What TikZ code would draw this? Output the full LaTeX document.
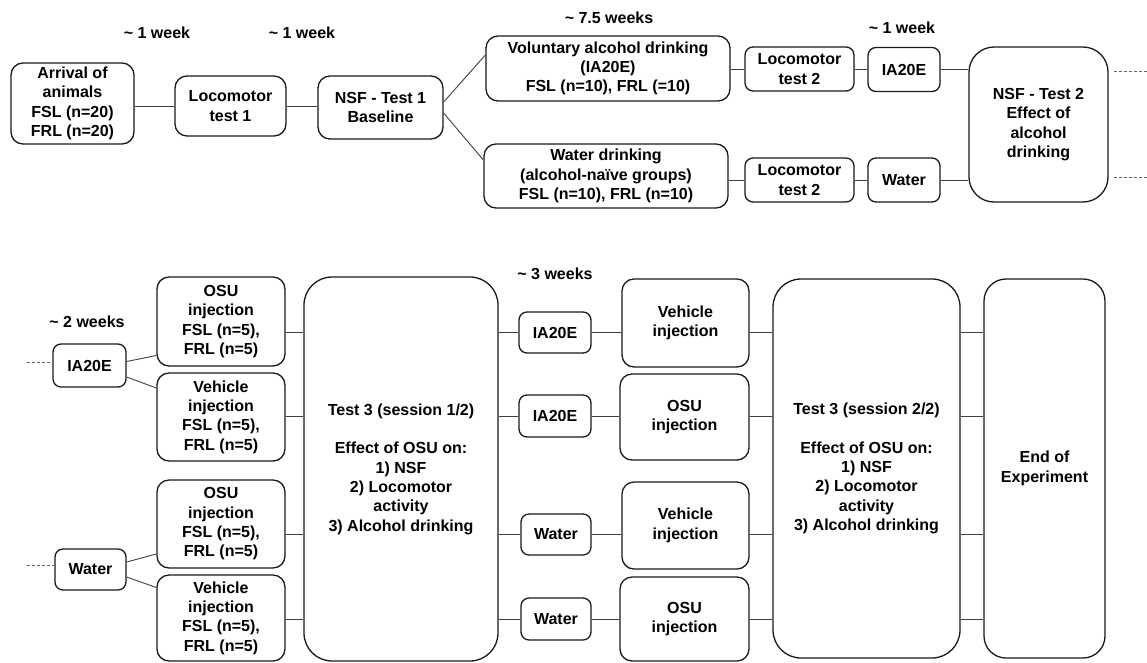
\documentclass[tikz,border=0pt]{standalone}
\usepackage{fontspec}
\setmainfont{Liberation Sans}
\begin{document}
\begin{tikzpicture}[x=1pt,y=-1pt,font=\fontsize{16}{19.3}\selectfont\bfseries]
        \tikzstyle{stage}=[draw=black!90,line width=1.3pt,rounded corners=12pt,align=center,inner sep=0pt]
        \tikzstyle{small}=[stage,rounded corners=8pt]
        \tikzstyle{big}=[stage,rounded corners=28pt]
        \tikzstyle{link}=[draw=black!75,line width=0.9pt]
        \tikzstyle{loose}=[draw=black!60,line width=0.8pt,dash pattern=on 3pt off 2pt]
        \useasboundingbox (0,0) rectangle (1147,662);
        % top row
        \node [stage,minimum width=123pt,minimum height=81pt] (arr) at (72.5,103.5) {Arrival of\\animals\\FSL (n=20)\\FRL (n=20)};
        \node [stage,minimum width=111pt,minimum height=60pt] (loc1) at (230.5,106) {Locomotor\\test 1};
        \node [stage,minimum width=125pt,minimum height=63pt] (nsf1) at (380.5,107.5) {NSF - Test 1\\Baseline};
        \node [stage,minimum width=244pt,minimum height=65pt] (vol) at (608,68.5) {Voluntary alcohol drinking\\(IA20E)\\FSL (n=10), FRL (=10)};
        \node [stage,minimum width=244pt,minimum height=64pt] (wat) at (606,176) {Water drinking\\(alcohol-naïve groups)\\FSL (n=10), FRL (n=10)};
        \node [small,minimum width=109pt,minimum height=44pt] (loc2a) at (799.5,69) {Locomotor\\test 2};
        \node [small,minimum width=72pt,minimum height=44pt] (ia1) at (904,69.5) {IA20E};
        \node [small,minimum width=109pt,minimum height=44pt] (loc2b) at (799.5,180) {Locomotor\\test 2};
        \node [small,minimum width=72pt,minimum height=44pt] (wat1) at (904,180) {Water};
        \node [big,rounded corners=25pt,minimum width=139pt,minimum height=155pt] (nsf2) at (1038.5,124.5) {NSF - Test 2\\Effect of\\alcohol\\drinking};
        \coordinate (dA) at (1147,71);
        \coordinate (dB) at (1147,177);
        \node (w1) at (157,33) {\textasciitilde{} 1 week};
        \node (w2) at (302,33) {\textasciitilde{} 1 week};
        \node (w3) at (609,18) {\textasciitilde{} 7.5 weeks};
        \node (w4) at (902,28) {\textasciitilde{} 1 week};
        \path[link] (arr.east |- loc1) -- (loc1.west);
        \path[link] (loc1.east) -- (loc1.east -| nsf1.west);
        \path[link] ([yshift=5.5pt]nsf1.east) -- ([yshift=13.5pt]vol.west);
        \path[link] ([yshift=-5.5pt]nsf1.east) -- ([yshift=16pt]wat.west);
        \path[link] (vol.east |- loc2a) -- (loc2a.west);
        \path[link] (loc2a.east) -- (ia1.west |- loc2a);
        \path[link] (ia1.east) -- (ia1.east -| nsf2.west);
        \path[link] (wat.east |- loc2b) -- (loc2b.west);
        \path[link] (loc2b.east) -- (wat1.west);
        \path[link] (wat1.east) -- (wat1.east -| nsf2.west);
        \path[loose] ([xshift=5pt]nsf2.east |- dA) -- (dA);
        \path[loose] ([xshift=5pt]nsf2.east |- dB) -- (dB);
        % bottom row
        \node [small,minimum width=73pt,minimum height=43pt] (iaL) at (89.5,365.5) {IA20E};
        \node [small,minimum width=71pt,minimum height=41pt] (waL) at (90.5,569.5) {Water};
        \node (w5) at (87,322) {\textasciitilde{} 2 weeks};
        \node (w6) at (555,274) {\textasciitilde{} 3 weeks};
        \coordinate (dL1) at (27,362);
        \coordinate (dL2) at (27,565);
        \node [stage,minimum width=128pt,minimum height=89pt] (osuA) at (221,321.5) {OSU\\injection\\FSL (n=5),\\FRL (n=5)};
        \node [stage,minimum width=128pt,minimum height=88pt] (vehA) at (221,417) {Vehicle\\injection\\FSL (n=5),\\FRL (n=5)};
        \node [stage,minimum width=128pt,minimum height=88pt] (osuB) at (221,524) {OSU\\injection\\FSL (n=5),\\FRL (n=5)};
        \node [stage,minimum width=128pt,minimum height=86pt] (vehB) at (221,618) {Vehicle\\injection\\FSL (n=5),\\FRL (n=5)};
        \node [big,minimum width=194pt,minimum height=384pt] (tsA) at (401,469) {Test 3 (session 1/2)\\ \\Effect of OSU on:\\1) NSF\\2) Locomotor\\activity\\3) Alcohol drinking};
        \node [small,minimum width=72pt,minimum height=41pt] (iaM1) at (555,332.5) {IA20E};
        \node [small,minimum width=72pt,minimum height=42pt] (iaM2) at (555,416) {IA20E};
        \node [small,minimum width=70pt,minimum height=41pt] (waM1) at (556,534.5) {Water};
        \node [small,minimum width=70pt,minimum height=42pt] (waM2) at (556,619) {Water};
        \node [stage,minimum width=127pt,minimum height=88pt] (vehM1) at (685.5,323) {Vehicle\\injection};
        \node [stage,minimum width=129pt,minimum height=86pt] (osuM1) at (684.5,417) {OSU\\injection};
        \node [stage,minimum width=127pt,minimum height=87pt] (vehM2) at (685.5,525.5) {Vehicle\\injection};
        \node [stage,minimum width=129pt,minimum height=84pt] (osuM2) at (684.5,619) {OSU\\injection};
        \node [big,minimum width=187pt,minimum height=379pt] (tsB) at (866.5,468.5) {Test 3 (session 2/2)\\ \\Effect of OSU on:\\1) NSF\\2) Locomotor\\activity\\3) Alcohol drinking};
        \node [big,rounded corners=22pt,minimum width=121pt,minimum height=379pt] (endX) at (1044.5,468.5) {End of\\Experiment};
        \path[loose] (dL1) -- (dL1 -| iaL.west);
        \path[loose] (dL2) -- (dL2 -| waL.west);
        \path[link] ([yshift=4pt]iaL.east) -- ([yshift=-34pt]osuA.west);
        \path[link] ([yshift=-11.5pt]iaL.east) -- ([yshift=29pt]vehA.west);
        \path[link] ([yshift=7.5pt]waL.east) -- ([yshift=-30pt]osuB.west);
        \path[link] ([yshift=-7.5pt]waL.east) -- ([yshift=30.5pt]vehB.west);
        \foreach \l/\m/\r in {osuA/iaM1/vehM1,vehA/iaM2/osuM1,osuB/waM1/vehM2,vehB/waM2/osuM2} {
            \path[link] (\l.east |- \m) -- (tsA.west |- \m);
            \path[link] (tsA.east |- \m) -- (\m.west);
            \path[link] (\m.east) -- (\r.west |- \m);
            \path[link] (\r.east |- \m) -- (tsB.west |- \m);
            \path[link] (tsB.east |- \m) -- (endX.west |- \m);
        }
\end{tikzpicture}
\end{document}
